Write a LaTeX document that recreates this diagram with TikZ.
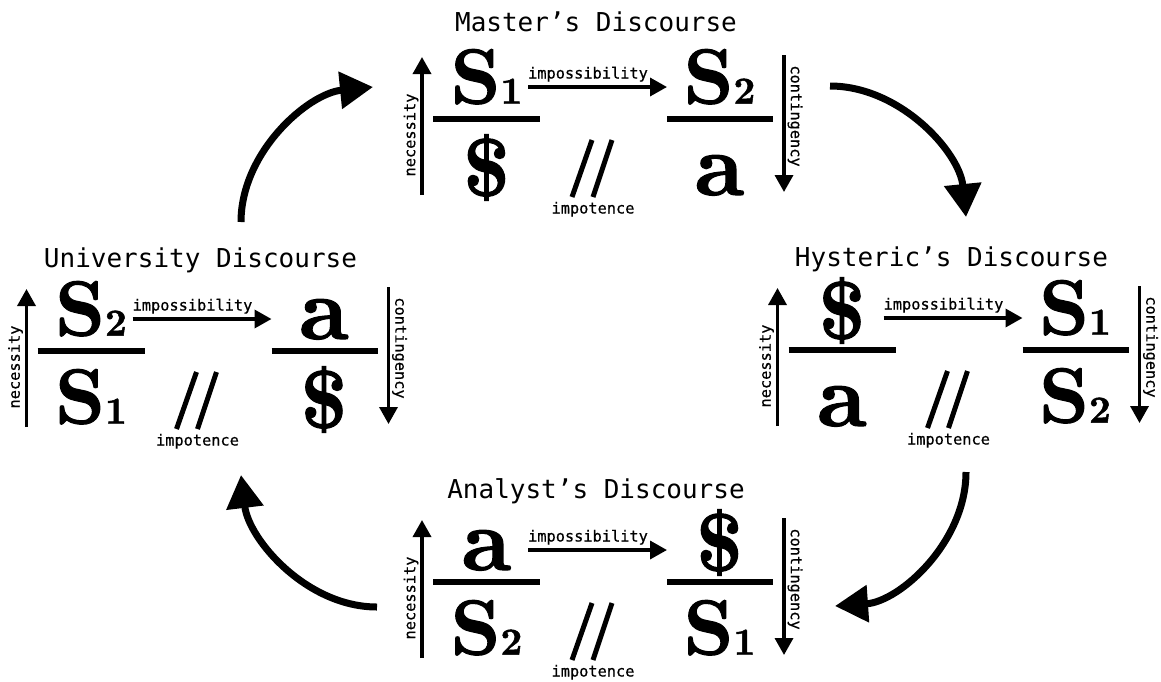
\documentclass[tikz,border=0pt]{standalone}
\usepackage{fontspec}
\newfontfamily\dmono{DejaVu Sans Mono}
\newfontfamily\dmonolab{DejaVu Sans Mono}[FakeBold=0.6]
\newfontface\symf{lmroman10-bold}[Extension=.otf, FakeBold=1.3]
\usetikzlibrary{arrows.meta}

\newcommand{\symS}[1]{\raisebox{2.5pt}{{\symf\fontsize{78}{78}\selectfont S}{\symf\fontsize{38}{38}\selectfont #1}}}
\newcommand{\symA}{\raisebox{-1pt}{\symf\fontsize{88}{88}\selectfont a}}
\newcommand{\symD}{\raisebox{-2pt}{\symf\fontsize{82}{82}\selectfont\$}}

\tikzset{
  dtitle/.style={font=\dmono\fontsize{26}{26}\selectfont, inner sep=0pt, anchor=base},
  lab/.style={font=\dmonolab\fontsize{15.3}{15.3}\selectfont, inner sep=0pt},
  sym/.style={inner sep=0pt, anchor=base},
  fbar/.style={line width=6.5pt},
  thinarrow/.style={line width=3.5pt, -{Triangle[length=17pt,width=18pt]}},
  slash/.style={line width=5pt},
  bigarrow/.style={line width=7pt, -{Triangle[length=33pt,width=36pt]}},
}

% #1 prefix, #2 cx, #3 bar y, #4 title, #5 title dy, #6 UL, #7 UR, #8 LL, #9 LR
\newcommand{\discourse}[9]{%
  \begin{scope}[shift={(#2,#3)}]
    \node[dtitle] (#1-title) at (-7,#5) {#4};
    \node[sym] (#1-ul) at (-116.5,-13) {#6};
    \node[sym] (#1-ur) at (116.5,-13) {#7};
    \node[sym] (#1-ll) at (-116.5,75) {#8};
    \node[sym] (#1-lr) at (116.5,75) {#9};
    \draw[fbar] (-170,0) -- (-63,0);
    \draw[fbar] (64,0) -- (170,0);
    \coordinate (#1-ia) at (-75,-32);
    \coordinate (#1-ib) at (64,-32);
    \draw[thinarrow] (#1-ia) -- (#1-ib);
    \node[lab, anchor=base] (#1-imp) at (-15,-40.5) {impossibility};
    \coordinate (#1-na) at (-181,76);
    \coordinate (#1-nb) at (-181,-62);
    \draw[thinarrow] (#1-na) -- (#1-nb);
    \node[lab, rotate=90] (#1-nec) at (-192,16) {necessity};
    \coordinate (#1-ca) at (181,-64);
    \coordinate (#1-cb) at (181,73);
    \draw[thinarrow] (#1-ca) -- (#1-cb);
    \node[lab, rotate=-90] (#1-con) at (192,-3) {contingency};
    \draw[slash] (-31,78) -- (-11,21);
    \draw[slash] (-10,78) -- (9,21);
    \node[lab, anchor=base] (#1-ipt) at (-10,94.5) {impotence};
  \end{scope}}

\begin{document}
\begin{tikzpicture}[x=1pt,y=-1pt]
  \useasboundingbox (0,0) rectangle (1161,681);
  \discourse{m}{603}{119}{Master’s Discourse}{-88}{\symS{1}}{\symS{2}}{\symD}{\symA}
  \discourse{u}{207.5}{351}{University Discourse}{-84}{\symS{2}}{\symA}{\symS{1}}{\symD}
  \discourse{h}{958.5}{350}{Hysteric’s Discourse}{-84}{\symD}{\symS{1}}{\symA}{\symS{2}}
  \discourse{a}{603}{582}{Analyst’s Discourse}{-84}{\symA}{\symD}{\symS{2}}{\symS{1}}

  \coordinate (u-out) at (241,222);
  \coordinate (m-in) at (373,87);
  \coordinate (m-out) at (830,86);
  \coordinate (h-in) at (966,217);
  \coordinate (h-out) at (966,472);
  \coordinate (a-in) at (835,606);
  \coordinate (a-out) at (377,607);
  \coordinate (u-in) at (241,475);

  \draw[bigarrow] (u-out) .. controls (241,152) and (308,93.5) .. (m-in);
  \draw[bigarrow] (m-out) .. controls (900,86) and (959.5,152) .. (h-in);
  \draw[bigarrow] (h-out) .. controls (966,542) and (900,601.5) .. (a-in);
  \draw[bigarrow] (a-out) .. controls (307,607) and (248.8,540) .. (u-in);
\end{tikzpicture}
\end{document}
